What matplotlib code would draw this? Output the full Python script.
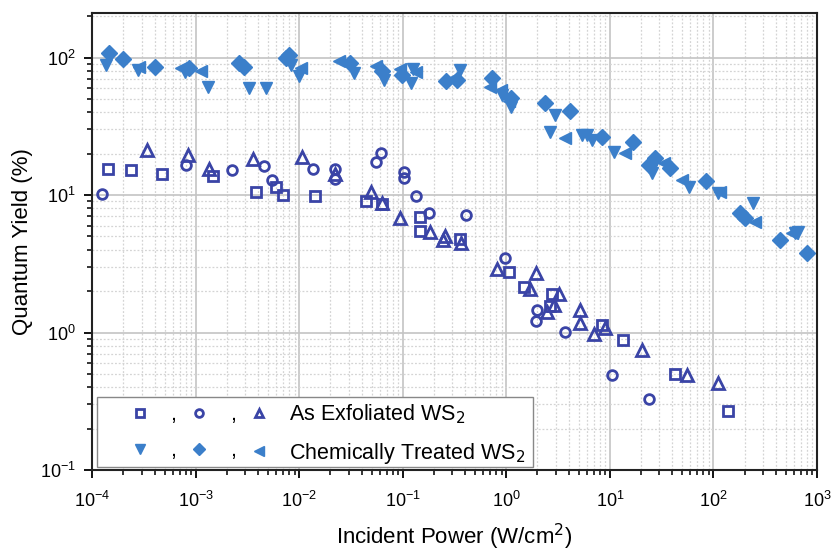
import matplotlib
matplotlib.use("Agg")
import matplotlib.pyplot as plt
from matplotlib.patches import Rectangle
from matplotlib.ticker import LogLocator, NullFormatter

plt.rcParams['font.family'] = ['Liberation Sans', 'DejaVu Sans']

# As exfoliated WS2 (hollow markers)
sq_x = [1.42e-4, 2.39e-4, 4.76e-4, 1.48e-3, 3.8e-3, 6.0e-3, 6.9e-3, 0.0142, 0.0446, 0.063,
        0.146, 0.146, 0.356, 1.05, 1.47, 2.62, 2.77, 8.4, 13.4, 42.9, 140]
sq_y = [15.5, 15.2, 14.2, 13.7, 10.6, 11.5, 10.0, 9.8, 9.1, 8.6,
        6.9, 5.5, 4.75, 2.76, 2.13, 1.56, 1.90, 1.13, 0.88, 0.50, 0.27]

ci_x = [1.23e-4, 8.0e-4, 2.26e-3, 4.6e-3, 5.5e-3, 0.0137, 0.0221, 0.0221, 0.0545, 0.062,
        0.102, 0.102, 0.133, 0.178, 0.41, 0.98, 1.94, 1.98, 3.72, 10.5, 23.7]
ci_y = [10.1, 16.6, 15.2, 16.3, 12.8, 15.4, 15.4, 13.0, 17.5, 20.1,
        14.6, 13.2, 9.8, 7.43, 7.1, 3.5, 1.21, 1.45, 1.01, 0.49, 0.33]

tr_x = [3.36e-4, 8.5e-4, 1.34e-3, 3.56e-3, 0.0107, 0.0221, 0.0488, 0.063, 0.095, 0.185,
        0.245, 0.253, 0.366, 0.81, 1.68, 1.94, 2.48, 2.91, 3.2, 5.1, 5.19, 6.97, 9.05,
        20.5, 55.6, 112]
tr_y = [21.3, 19.6, 15.4, 18.2, 19.0, 14.2, 10.6, 8.8, 6.77, 5.4,
        4.7, 5.0, 4.5, 2.92, 2.06, 2.72, 1.41, 1.58, 1.92, 1.17, 1.45, 0.98, 1.07,
        0.75, 0.49, 0.43]

# Chemically treated WS2 (filled markers)
dn_x = [1.35e-4, 2.75e-4, 7.8e-4, 1.3e-3, 3.3e-3, 4.8e-3, 8.3e-3, 9.9e-3, 0.034, 0.066,
        0.125, 0.119, 0.36, 0.91, 1.1, 2.62, 2.98, 5.4, 6.0, 6.7, 10.9, 25.5, 57.7, 112,
        244, 617, 660]
dn_y = [88, 81, 79, 61.5, 60, 60, 88, 72.8, 77, 69,
        82, 65, 81, 53.5, 44, 28.9, 38.3, 27.3, 27.3, 25, 20.7, 14.4, 11.5, 10.3,
        8.7, 5.25, 5.4]

di_x = [1.44e-4, 1.97e-4, 4.05e-4, 8.6e-4, 2.6e-3, 2.95e-3, 7.5e-3, 8.0e-3, 0.031, 0.063,
        0.099, 0.26, 0.335, 0.73, 1.1, 2.39, 4.16, 8.4, 16.7, 23.7, 27.5, 38.4, 85.5,
        182, 204, 442, 800]
di_y = [108, 98, 85, 84, 91, 86, 100, 105, 91, 80,
        75, 67, 69, 70.8, 50.6, 46.6, 40.5, 26.6, 24.4, 16.6, 18.5, 15.6, 12.7,
        7.35, 6.77, 4.7, 3.76]

le_x = [2.85e-4, 7.2e-4, 1.12e-3, 1.04e-2, 0.024, 0.0545, 0.095, 0.133, 0.31, 0.70,
        0.88, 1.05, 3.72, 14.1, 33, 49.8, 117, 254, 574]
le_y = [86, 84, 80, 84, 94.6, 87.5, 83, 79, 71, 61,
        58, 48, 25.9, 20.1, 17, 12.8, 10.6, 6.4, 5.25]

dark = '#3a44a6'
light = '#3b7fca'

fig = plt.figure(figsize=(8.31, 5.51), dpi=100)
ax = fig.add_axes([0.111, 0.147, 0.872, 0.829])

hollow = dict(linestyle='none', markerfacecolor='none', markeredgecolor=dark,
              markeredgewidth=2, zorder=3)
filled = dict(linestyle='none', color=light, markeredgecolor=light, zorder=3)

h_sq, = ax.plot(sq_x, sq_y, 's', markersize=6.5, **hollow)
h_dn, = ax.plot(dn_x, dn_y, 'v', markersize=9, **filled)
h_ci, = ax.plot(ci_x, ci_y, 'o', markersize=7, **hollow)
h_di, = ax.plot(di_x, di_y, 'D', markersize=8, **filled)
h_tr, = ax.plot(tr_x, tr_y, '^', markersize=8, **hollow)
h_le, = ax.plot(le_x, le_y, '<', markersize=9, **filled)

ax.set_xscale('log')
ax.set_yscale('log')
ax.set_xlim(1e-4, 1e3)
ax.set_ylim(1e-1, 210)

ax.xaxis.set_major_locator(LogLocator(base=10, numticks=20))
ax.xaxis.set_minor_locator(LogLocator(base=10, subs=range(2, 10), numticks=100))
ax.yaxis.set_major_locator(LogLocator(base=10, numticks=20))
ax.yaxis.set_minor_locator(LogLocator(base=10, subs=range(2, 10), numticks=100))
ax.xaxis.set_minor_formatter(NullFormatter())
ax.yaxis.set_minor_formatter(NullFormatter())

ax.grid(True, which='major', color='#c4c4c4', linewidth=1.2, linestyle='-')
ax.grid(True, which='minor', color='#d4d4d4', linewidth=0.9, linestyle=(0, (1.5, 1.5)))
ax.set_axisbelow(True)

ax.tick_params(which='major', direction='out', length=6, width=1.3, labelsize=13, pad=6)
ax.tick_params(axis='x', which='major', pad=9)
ax.tick_params(which='minor', direction='out', length=3.5, width=1.1)
for s in ax.spines.values():
    s.set_linewidth(1.5)
    s.set_color('#222222')

ax.set_xlabel('Incident Power (W/cm$^2$)', fontsize=16, labelpad=8)
ax.set_ylabel('Quantum Yield (%)', fontsize=16, labelpad=5)

# legend box drawn separately so the marker columns can sit like the original
box = Rectangle((0.007, 0.0066), 0.601, 0.153, transform=ax.transAxes,
                facecolor='white', edgecolor='#888888', linewidth=1.0, zorder=4)
ax.add_patch(box)

handles = [h_sq, h_dn, h_ci, h_di, h_tr, h_le]
labels = [',', ',', ',', ',', 'As Exfoliated WS$_2$', 'Chemically Treated WS$_2$']
leg = ax.legend(handles, labels, ncol=3, loc='lower left', bbox_to_anchor=(0.0507, 0.009),
                fontsize=15.5, handlelength=1.0, handletextpad=0.9, columnspacing=0.6,
                borderpad=0.0, borderaxespad=0.0, labelspacing=0.7, frameon=False,
                markerscale=0.8)
leg.set_zorder(5)

fig.savefig('out.png', dpi=100)
